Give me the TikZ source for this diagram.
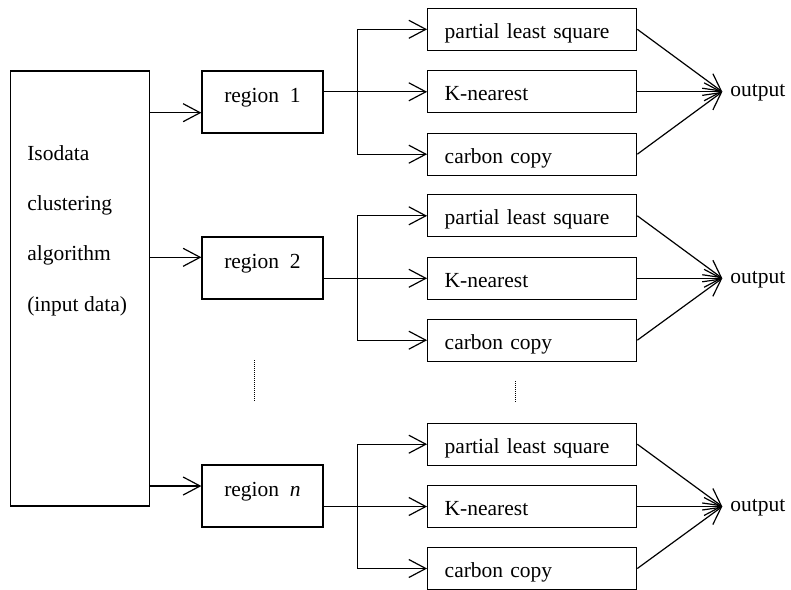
\documentclass[tikz,border=0pt]{standalone}
\usepackage{fontspec}
\setmainfont{Liberation Serif}
\usetikzlibrary{arrows.meta}
\begin{document}
\begin{tikzpicture}[x=1pt,y=-1pt,line width=1.2pt,
  every node/.style={font=\fontsize{21.5}{26}\selectfont},
  arr/.style={-{Straight Barb[length=17pt,width=18pt]}},
  bigbox/.style={draw,minimum width=139.2pt,minimum height=435pt,inner sep=0pt},
  regbox/.style={draw,minimum width=121pt,minimum height=62pt,inner sep=0pt,text height=5.4pt,text depth=5.4pt},
  mbox/.style={draw,text width=175pt,align=left,inner xsep=17pt,inner ysep=0pt,minimum height=42pt,text height=22.6pt,text depth=4.7pt},
  lbl/.style={anchor=base west,inner sep=0pt},
  dots/.style={line width=1pt,dash pattern=on 1pt off 1pt}]
\useasboundingbox (0,0) rectangle (791,589);

% left box
\node[bigbox] (iso) at (79.9,288.5) {};
\node[lbl] (t1) at (26.7,160) {Isodata};
\node[lbl] (t2) at (26.7,210.3) {clustering};
\node[lbl] (t3) at (26.7,260.6) {algorithm};
\node[lbl] (t4) at (26.7,311) {(input data)};

% regions
\node[regbox] (r1) at (262.5,102) {region\ \ 1};
\node[regbox] (r2) at (262.5,268) {region\ \ 2};
\node[regbox] (rn) at (262.5,496) {region\ \ \textit{n}};

% method boxes
\node[mbox] (p1) at (532.2,29.3) {partial least square};
\node[mbox] (k1) at (532.2,91.8) {K-nearest};
\node[mbox] (c1) at (532.2,154.2) {carbon copy};
\node[mbox] (p2) at (532.2,215.8) {partial least square};
\node[mbox] (k2) at (532.2,278.3) {K-nearest};
\node[mbox] (c2) at (532.2,340.2) {carbon copy};
\node[mbox] (p3) at (532.2,444.2) {partial least square};
\node[mbox] (k3) at (532.2,506.5) {K-nearest};
\node[mbox] (c3) at (532.2,568.5) {carbon copy};

% inputs to regions
\coordinate (r1in) at ([yshift=-10.7pt]r1.west);
\coordinate (r2in) at ([yshift=10.7pt]r2.west);
\coordinate (rnin) at ([yshift=10pt]rn.west);
\draw[arr] (iso.east |- r1in) -- (r1in);
\draw[arr] (iso.east |- r2in) -- (r2in);
\draw[arr] (iso.east |- rnin) -- (rnin);

% regions to methods
\path (k1.west) ++(-69.4,0) coordinate (j1);
\path (k2.west) ++(-69.4,0) coordinate (j2);
\path (k3.west) ++(-69.4,0) coordinate (j3);
\draw[arr] (r1.east |- k1.west) -- (k1.west);
\draw[arr] (j1) |- (p1.west);
\draw[arr] (j1) |- (c1.west);
\draw[arr] (r2.east |- k2.west) -- (k2.west);
\draw[arr] (j2) |- (p2.west);
\draw[arr] (j2) |- (c2.west);
\draw[arr] (rn.east |- k3.west) -- (k3.west);
\draw[arr] (j3) |- (p3.west);
\draw[arr] (j3) |- (c3.west);

% outputs
\path (k1.east) ++(85,0) coordinate (o1);
\path (k2.east) ++(85,0) coordinate (o2);
\path (k3.east) ++(85,0) coordinate (o3);
\draw[arr] (p1.east) -- (o1);
\draw[arr] (k1.east) -- (o1);
\draw[arr] (c1.east) -- (o1);
\draw[arr] (p2.east) -- (o2);
\draw[arr] (k2.east) -- (o2);
\draw[arr] (c2.east) -- (o2);
\draw[arr] (p3.east) -- (o3);
\draw[arr] (k3.east) -- (o3);
\draw[arr] (c3.east) -- (o3);
\node[lbl] (out1) at ([xshift=7.5pt,yshift=-5pt]o1) {output};
\node[lbl] (out2) at ([xshift=7.5pt,yshift=-5pt]o2) {output};
\node[lbl] (out3) at ([xshift=7.5pt,yshift=-5pt]o3) {output};

% vertical ellipses
\draw[dots] (254,360) -- (254,401);
\draw[dots] (515,381) -- (515,402);
\end{tikzpicture}
\end{document}
